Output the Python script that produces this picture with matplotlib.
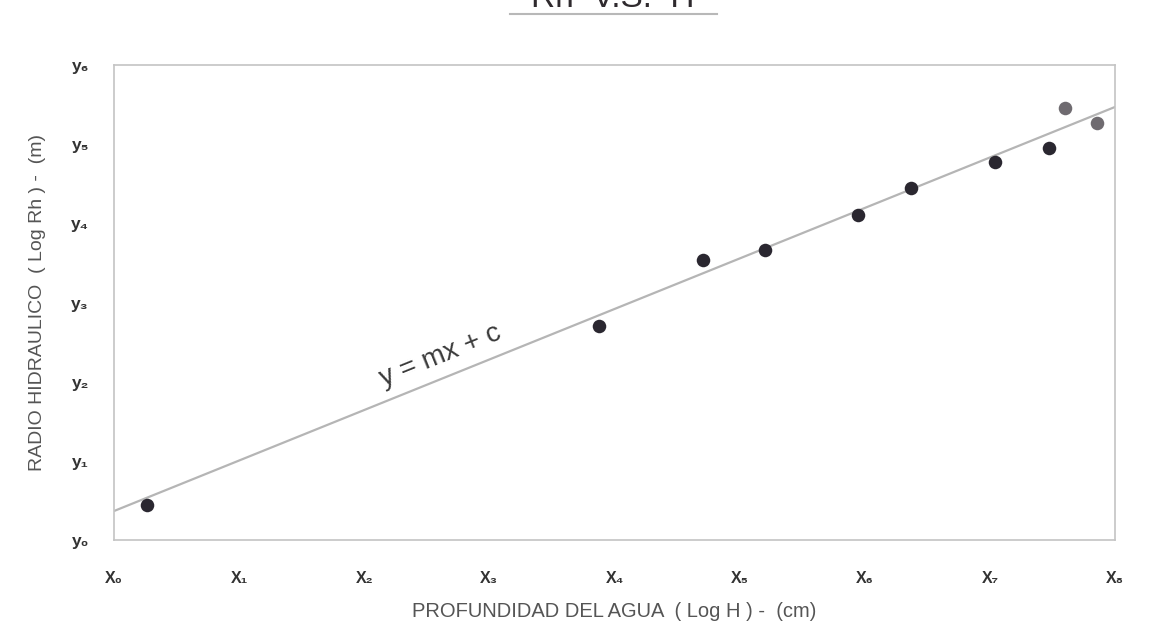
import matplotlib
matplotlib.use("Agg")
import matplotlib.pyplot as plt
from matplotlib.lines import Line2D
import numpy as np

plt.rcParams['font.family'] = ['Liberation Sans', 'DejaVu Sans']

# Data (in tick units: x0..x8, y0..y6)
x_dark = [0.26, 3.88, 4.71, 5.20, 5.95, 6.37, 7.04, 7.47]
y_dark = [0.44, 2.70, 3.54, 3.66, 4.11, 4.45, 4.77, 4.95]
x_gray = [7.60, 7.86]
y_gray = [5.46, 5.27]
fit_x = [0.0, 8.0]
fit_y = [0.366, 5.47]

x_ticks = list(range(9))
x_labels = ["X₀", "X₁", "X₂", "X₃", "X₄", "X₅", "X₆", "X₇", "X₈"]
y_ticks = list(range(7))
y_labels = ["y₀", "y₁", "y₂", "y₃", "y₄", "y₅", "y₆"]

fig = plt.figure(figsize=(11.55, 6.29), dpi=100)
fig.patch.set_facecolor('white')
ax = fig.add_axes([114/1155, 1-540/629, (1115-114)/1155, (540-65)/629])

ax.plot(fit_x, fit_y, color='#b5b5b5', lw=1.6, zorder=1)
ax.scatter(x_dark, y_dark, s=95, color='#2a2730', zorder=3, linewidths=0)
ax.scatter(x_gray, y_gray, s=95, color='#6f6b70', zorder=3, linewidths=0)

ax.set_xlim(0, 8)
ax.set_ylim(0, 6)
ax.set_xticks(x_ticks)
ax.set_xticklabels(x_labels, fontsize=11.5, fontweight='bold', color='#333333')
ax.set_yticks(y_ticks)
ax.set_yticklabels(y_labels, fontsize=12.5, fontweight='bold', color='#333333')
ax.tick_params(axis='both', length=0)
ax.tick_params(axis='x', pad=22)
ax.tick_params(axis='y', pad=18)
for s in ax.spines.values():
    s.set_color('#c4c4c4')
    s.set_linewidth(1.2)

ax.set_xlabel("PROFUNDIDAD DEL AGUA  ( Log H ) -  (cm)", fontsize=14.5,
              color='#555555', labelpad=12)
ax.set_ylabel("RADIO HIDRAULICO  ( Log Rh ) -  (m)", fontsize=14,
              color='#555555', labelpad=18)

ax.text(2.61, 2.32, "y = mx + c", rotation=22, fontsize=20, color='#3a3a3a',
        ha='center', va='center', rotation_mode='anchor')

fig.text(613/1155, 1-7/629, "Rh  V.S.  H", fontsize=24, color='#2f2a2e',
         ha='center', va='baseline')
fig.add_artist(Line2D([510/1155, 717/1155], [1-14/629, 1-14/629],
                      transform=fig.transFigure, color='#b8b8b8', lw=1.5))

fig.savefig("out.png", dpi=100, facecolor='white')
